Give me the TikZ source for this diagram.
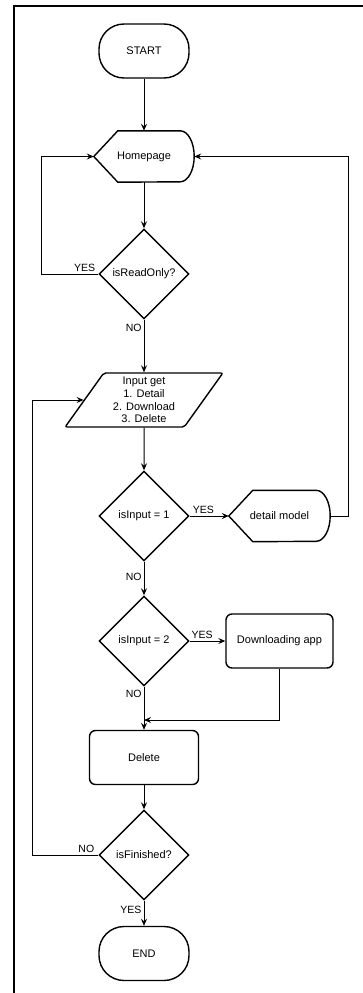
\documentclass[tikz,border=0pt]{standalone}
\usepackage{fontspec}
\setmainfont{Liberation Sans}
\usetikzlibrary{arrows.meta,shapes.geometric}

\begin{document}
\begin{tikzpicture}[x=1pt,y=-1pt,%
  font=\fontsize{11}{12.6}\selectfont,%
  terminal/.style={draw,line width=1.4pt,rounded corners=25pt,minimum width=90pt,minimum height=54pt},%
  process/.style={draw,line width=1.4pt,rounded corners=6pt,minimum height=54pt},%
  decision/.style={diamond,draw,line width=1.4pt,minimum width=90pt,minimum height=90pt,inner sep=0pt},%
  inout/.style={trapezium,trapezium left angle=57,trapezium right angle=123,trapezium stretches=true,%
    draw,line width=1.4pt,rounded corners=2pt,minimum width=158pt,minimum height=54pt,inner sep=1pt,align=center},%
  displaybox/.style={minimum height=51pt,inner sep=0pt,%
    append after command={\pgfextra{\draw[line width=1.4pt] (\tikzlastnode.west)
      -- ([xshift=24pt]\tikzlastnode.north west) -- ([xshift=-14pt]\tikzlastnode.north east)
      arc[start angle=90,end angle=-90,x radius=14pt,y radius=25.5pt]
      -- ([xshift=24pt]\tikzlastnode.south west) -- cycle;}}},%
  arr/.style={line width=1pt,-{Stealth[length=7pt,width=6pt,inset=2.5pt]}},%
  lbl/.style={font=\fontsize{10.5}{12}\selectfont,inner sep=2pt}%
  ]
  \useasboundingbox (0,0) rectangle (363,993);
  \draw[line width=2pt] (363,6) -- (14,6) -- (14,993);

  \node[terminal] (start) at (144,51) {START};
  \node[displaybox,minimum width=100pt] (home) at (144,156.5) {Homepage};
  \node[decision] (ro) at (144,274) {isReadOnly?};
  \node[inout] (inp) at (144,400) {Input get\\1. Detail\\2. Download\\3. Delete};
  \node[decision] (in1) at (144,516) {isInput = 1};
  \node[displaybox,minimum width=101pt] (dm) at (279.5,516) {detail model};
  \node[decision] (in2) at (144,641) {isInput = 2};
  \node[process,minimum width=107pt] (dl) at (279.5,641) {Downloading app};
  \node[process,minimum width=109pt] (del) at (144,757.5) {Delete};
  \node[decision] (fin) at (144,855) {isFinished?};
  \node[terminal] (end) at (144,953.5) {END};
  \coordinate (join) at (144,720);

  \draw[arr] (start) -- (home);
  \draw[arr] (home) -- (ro);
  \draw[arr] (ro.west) -- node[lbl,pos=0.24,above] (ro-yes) {YES} (41,274) |- (home.west);
  \draw[arr] (ro) -- node[lbl,pos=0.15,left] (ro-no) {NO} (inp);
  \draw[arr] (inp) -- (in1);
  \draw[arr] (in1) -- node[lbl,pos=0.35,above] (in1-yes) {YES} (dm);
  \draw[arr] (dm.east) -- (348,516) |- (home.east);
  \draw[arr] (in1) -- node[lbl,pos=0.46,left] (in1-no) {NO} (in2);
  \draw[arr] (in2) -- node[lbl,pos=0.35,above] (in2-yes) {YES} (dl);
  \draw[arr] (in2) -- node[lbl,pos=0.16,left] (in2-no) {NO} (del);
  \draw[arr] (dl.south) |- (join);
  \draw[arr] (del) -- (fin);
  \draw[arr] (fin.west) -- node[lbl,pos=0.18,above] (fin-no) {NO} (32,855) |- (inp.west);
  \draw[arr] (fin) -- node[lbl,pos=0.38,left] (fin-yes) {YES} (end);
\end{tikzpicture}
\end{document}
